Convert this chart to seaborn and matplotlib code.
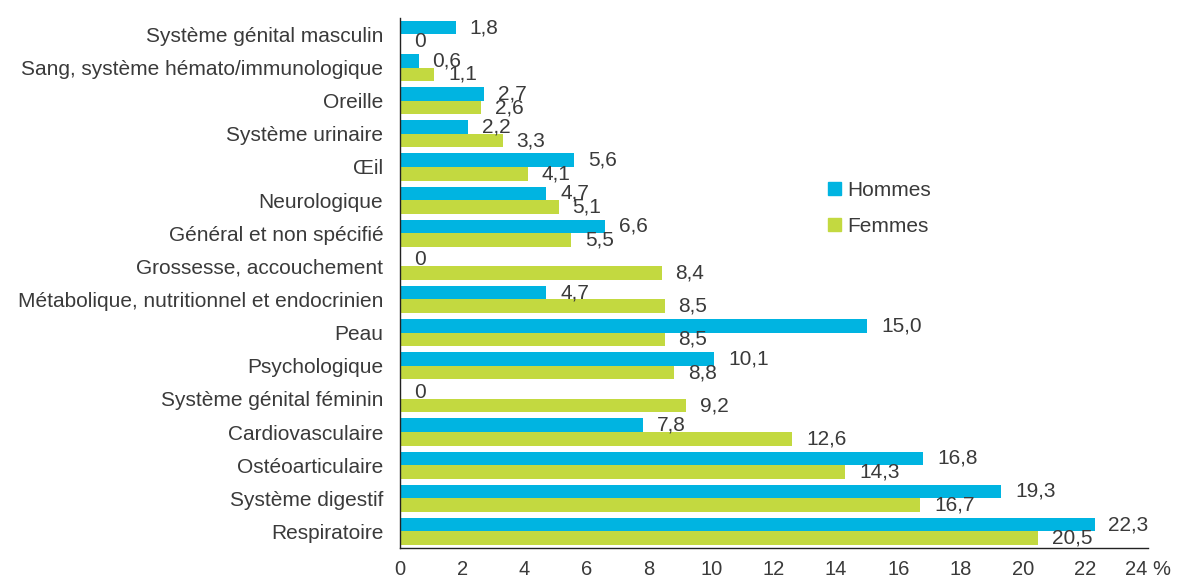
import numpy as np
import pandas as pd
import matplotlib
matplotlib.use("Agg")
import matplotlib.pyplot as plt
import seaborn as sns
from matplotlib.ticker import FixedLocator

# --- Data (top to bottom) ---
categories = [
    "Système génital masculin", "Sang, système hémato/immunologique", "Oreille",
    "Système urinaire", "Œil", "Neurologique", "Général et non spécifié",
    "Grossesse, accouchement", "Métabolique, nutritionnel et endocrinien", "Peau",
    "Psychologique", "Système génital féminin", "Cardiovasculaire",
    "Ostéoarticulaire", "Système digestif", "Respiratoire",
]
hommes = [1.8, 0.6, 2.7, 2.2, 5.6, 4.7, 6.6, 0, 4.7, 15.0, 10.1, 0, 7.8, 16.8, 19.3, 22.3]
femmes = [0, 1.1, 2.6, 3.3, 4.1, 5.1, 5.5, 8.4, 8.5, 8.5, 8.8, 9.2, 12.6, 14.3, 16.7, 20.5]
series = ["Hommes", "Femmes"]
xticks = [0, 2, 4, 6, 8, 10, 12, 14, 16, 18, 20, 22, 24]
xtick_labels = ["0", "2", "4", "6", "8", "10", "12", "14", "16", "18", "20", "22", "24 %"]

df = pd.DataFrame({
    "cat": categories * 2,
    "sexe": [series[0]] * len(categories) + [series[1]] * len(categories),
    "val": hommes + femmes,
})

TXT = "#3a3a3a"
FS = 15
colors = {"Hommes": "#00b4e1", "Femmes": "#c3d940"}

sns.set_theme(style="white")
plt.rcParams["font.family"] = ["Liberation Sans", "DejaVu Sans"]

fig = plt.figure(figsize=(11.83, 5.78), dpi=100)
ax = fig.add_axes([0.338, 0.052, 0.632, 0.917])

sns.barplot(data=df, y="cat", x="val", hue="sexe", orient="h",
            palette=colors, width=0.82, gap=0, ax=ax, legend=False,
            order=categories, hue_order=series, saturation=1, linewidth=0)

# value labels, French decimal comma
for cont, vals in zip(ax.containers, [hommes, femmes]):
    labs = ["0" if v == 0 else f"{v:.1f}".replace(".", ",") for v in vals]
    ax.bar_label(cont, labels=labs, padding=10, fontsize=FS, color=TXT)

ax.set_xlim(0, 24)
ax.set_ylim(len(categories) - 0.5, -0.5)
ax.set_xticks(xticks)
ax.set_xticklabels(xtick_labels, fontsize=FS - 0.5, color=TXT)
ax.tick_params(axis="x", direction="out", length=6, width=1, color="#222", pad=3)
ax.tick_params(axis="y", which="major", length=0, labelsize=FS, labelcolor=TXT, pad=12)
# y ticks sit between the categories
ax.yaxis.set_minor_locator(FixedLocator(np.arange(-0.5, len(categories), 1)))
ax.tick_params(axis="y", which="minor", direction="out", length=7, width=1, color="#222")
ax.set_xlabel("")
ax.set_ylabel("")
for s in ["top", "right"]:
    ax.spines[s].set_visible(False)
for s in ["left", "bottom"]:
    ax.spines[s].set_color("#222")
    ax.spines[s].set_linewidth(1)

handles = [plt.Rectangle((0, 0), 1, 1, color=colors[s]) for s in series]
leg = ax.legend(handles, series, loc="upper left", bbox_to_anchor=(0.573, 0.692),
                frameon=False, fontsize=FS, handlelength=0.6, handleheight=0.6,
                handletextpad=0.3, labelspacing=0.8, borderpad=0, borderaxespad=0)
for t in leg.get_texts():
    t.set_color(TXT)

fig.savefig("out.png", dpi=100)
